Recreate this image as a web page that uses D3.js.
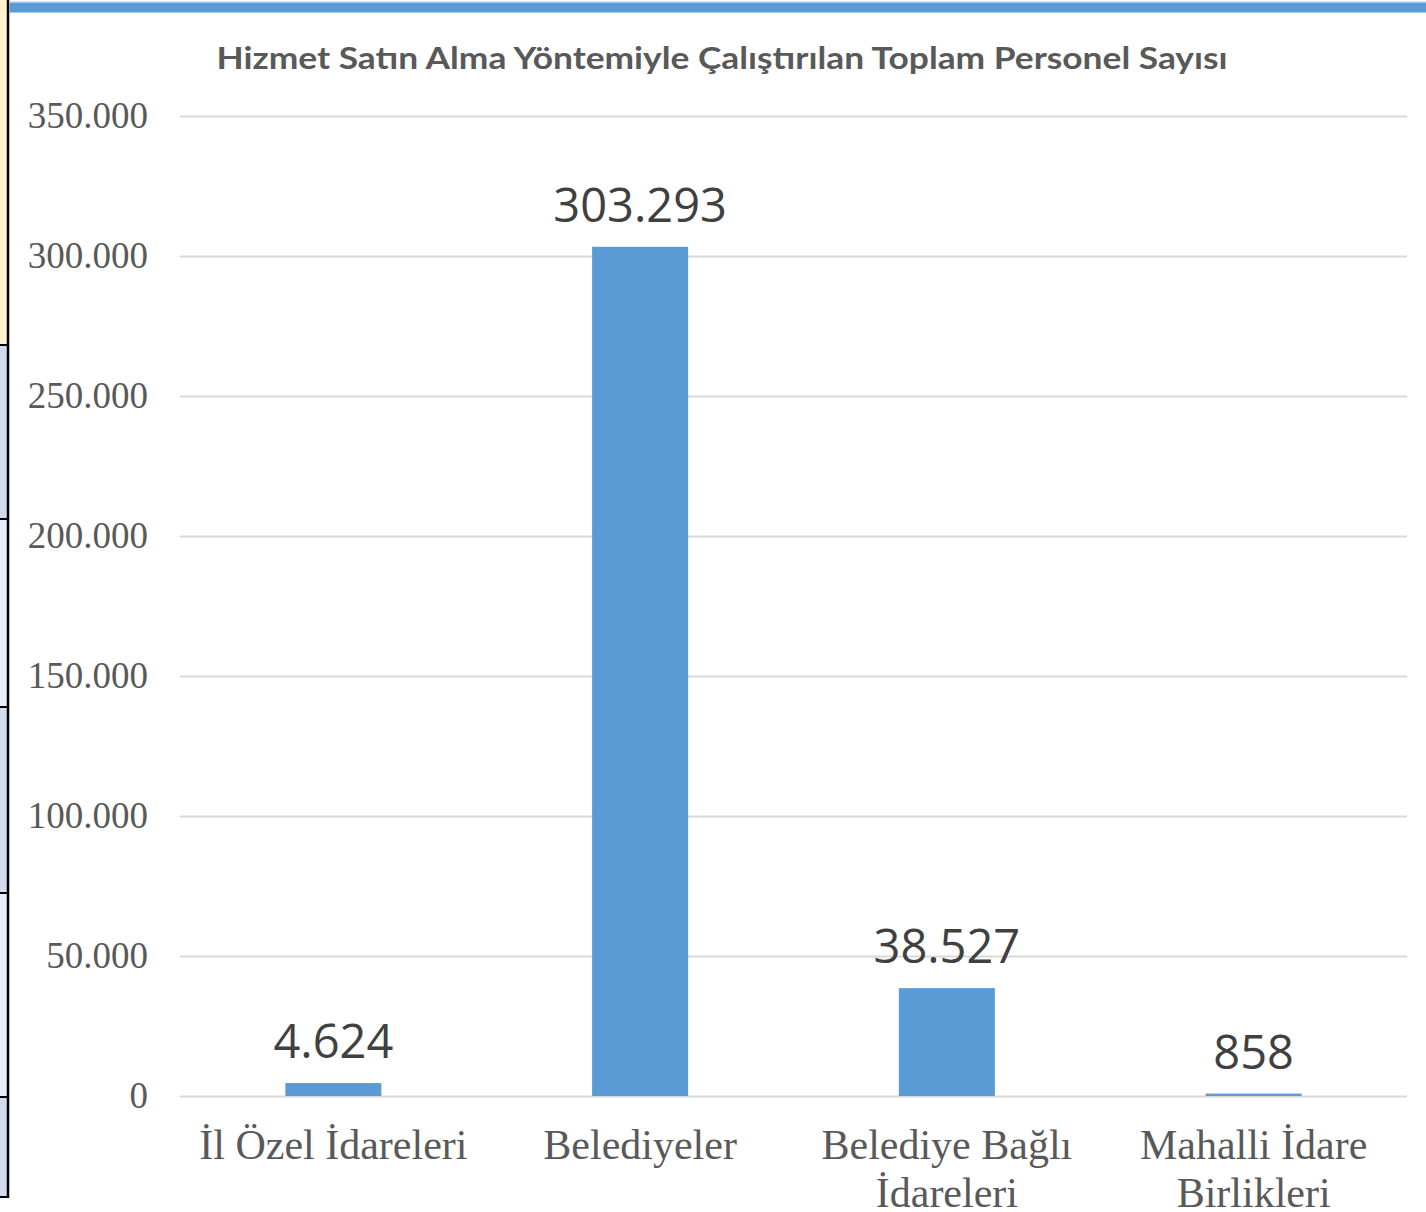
<!DOCTYPE html>
<html>
<head>
<meta charset="utf-8">
<script src="https://cdn.jsdelivr.net/npm/d3@7"></script>
<style>
  html, body { margin: 0; padding: 0; background: #fff; }
  svg { display: block; }
</style>
</head>
<body>
<svg id="chart" width="1426" height="1212"></svg>
<script>
const titleText = "Hizmet Satın Alma Yöntemiyle Çalıştırılan Toplam Personel Sayısı";
const categories = [["İl Özel İdareleri"], ["Belediyeler"], ["Belediye Bağlı", "İdareleri"], ["Mahalli İdare", "Birlikleri"]];
const values = [4624, 303293, 38527, 858];
const valueLabels = ["4.624", "303.293", "38.527", "858"];
const yTicks = [0, 50000, 100000, 150000, 200000, 250000, 300000, 350000];
const yTickLabels = ["0", "50.000", "100.000", "150.000", "200.000", "250.000", "300.000", "350.000"];
// decorative left strip (page background of the source document)
const stripBands = [0, 345, 519, 707, 893, 1097, 1197];
const stripColors = ["#FFF2CC", "#D0DCEE", "#E9EDF7", "#D0DCEE", "#E9EDF7", "#D0DCEE"];

const svg = d3.select("#chart");
const W = 1426, H = 1212;

// left decorative strip
svg.selectAll("rect.strip").data(stripColors).join("rect")
  .attr("x", 0).attr("width", 7.5)
  .attr("y", (d, i) => stripBands[i])
  .attr("height", (d, i) => stripBands[i + 1] - stripBands[i])
  .attr("fill", d => d);
svg.selectAll("line.stripsep").data(stripBands.slice(1)).join("line")
  .attr("x1", 0).attr("x2", 9).attr("y1", d => d).attr("y2", d => d)
  .attr("stroke", "#000").attr("stroke-width", 2);
svg.append("line").attr("x1", 8).attr("x2", 8).attr("y1", 0).attr("y2", 1198)
  .attr("stroke", "#000").attr("stroke-width", 2.5);

// top blue border
svg.append("rect").attr("x", 9.5).attr("y", 1.5).attr("width", W - 9.5).attr("height", 1.5).attr("fill", "#A9C8EA");
svg.append("rect").attr("x", 9.5).attr("y", 3).attr("width", W - 9.5).attr("height", 9.5).attr("fill", "#5B9BD5");

const plot = { left: 180, right: 1407, top: 116, bottom: 1096 };

const x = d3.scaleBand().domain(d3.range(categories.length))
  .range([plot.left, plot.right]).paddingInner(0.687).paddingOuter(0.3435);
const y = d3.scaleLinear().domain([0, 350000]).range([plot.bottom, plot.top]);

// gridlines
const yAxis = d3.axisLeft(y).tickValues(yTicks).tickSize(-(plot.right - plot.left))
  .tickFormat((d, i) => yTickLabels[i]).tickPadding(32);
const gy = svg.append("g").attr("transform", `translate(${plot.left},0)`).call(yAxis);
gy.select(".domain").remove();
gy.selectAll(".tick line").attr("stroke", "#D9D9D9").attr("stroke-width", 2);
gy.selectAll(".tick text")
  .attr("font-family", "'Liberation Serif', 'Times New Roman', serif")
  .attr("font-size", 37).attr("fill", "#595959").attr("dy", "0.32em");

// bars
svg.selectAll("rect.bar").data(values).join("rect")
  .attr("class", "bar")
  .attr("x", (d, i) => x(i))
  .attr("width", x.bandwidth())
  .attr("y", d => y(d))
  .attr("height", d => y(0) - y(d))
  .attr("fill", "#5B9BD5");

// value labels
svg.selectAll("text.val").data(values).join("text")
  .attr("x", (d, i) => x(i) + x.bandwidth() / 2)
  .attr("y", d => y(d) - 25)
  .attr("text-anchor", "middle")
  .attr("font-family", "'Open Sans', 'Noto Sans', sans-serif")
  .attr("font-size", 47).attr("fill", "#404040")
  .text((d, i) => valueLabels[i]);

// category labels
const xl = svg.selectAll("text.cat").data(categories).join("text")
  .attr("text-anchor", "middle")
  .attr("font-family", "'Liberation Serif', 'Times New Roman', serif")
  .attr("font-size", 42).attr("fill", "#595959");
xl.each(function(lines, i) {
  const t = d3.select(this);
  lines.forEach((ln, j) => {
    t.append("tspan").attr("x", x(i) + x.bandwidth() / 2).attr("y", 1159 + j * 48).text(ln);
  });
});

// title
svg.append("text")
  .attr("x", 722).attr("y", 69)
  .attr("text-anchor", "middle")
  .attr("font-family", "'Comic Sans MS', 'Lato', 'DejaVu Sans', sans-serif")
  .attr("font-weight", "bold").attr("font-size", 31).attr("fill", "#595959")
  .attr("textLength", 1011).attr("lengthAdjust", "spacingAndGlyphs")
  .text(titleText);
</script>
</body>
</html>
